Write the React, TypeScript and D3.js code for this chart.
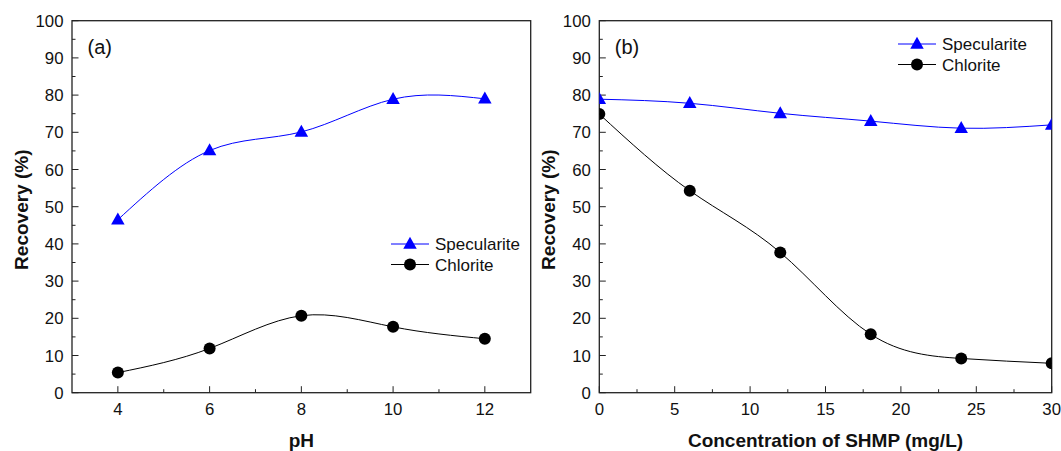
import React from "react";
import * as d3 from "d3";

// ---- Data ----
const phValues = [4, 6, 8, 10, 12];
const phSpecularite = [46.5, 65.1, 70.1, 78.9, 79.0];
const phChlorite = [5.4, 11.9, 20.7, 17.7, 14.5];

const shmpValues = [0, 6, 12, 18, 24, 30];
const shmpSpecularite = [78.9, 77.8, 75.1, 73.0, 71.1, 72.0];
const shmpChlorite = [74.9, 54.3, 37.7, 15.7, 9.2, 7.9];

const yTicks = [0, 10, 20, 30, 40, 50, 60, 70, 80, 90, 100];
const phTicks = [4, 6, 8, 10, 12];
const shmpTicks = [0, 5, 10, 15, 20, 25, 30];

const seriesNames = ["Specularite", "Chlorite"];

const FONT = "'Liberation Sans', Arial, Helvetica, sans-serif";
const BLUE = "#0000ff";

type PanelProps = {
  id: string;
  x0: number;
  x1: number;
  xDomain: [number, number];
  xTicks: number[];
  xMinor: number[];
  xs: number[];
  spec: number[];
  chl: number[];
  label: string;
  xTitle: string;
  legendX: number;
  legendY: number;
};

const TOP = 20.7;
const BOTTOM = 392.7;
const TICK_FS = 16.8;

function Triangle({ cx, cy }: { cx: number; cy: number }) {
  const w = 13.5;
  const h = 12;
  return (
    <path
      d={`M${cx},${cy - h * 0.6} L${cx + w / 2},${cy + h * 0.4} L${cx - w / 2},${cy + h * 0.4} Z`}
      fill={BLUE}
    />
  );
}

function Panel(p: PanelProps) {
  const x = d3.scaleLinear().domain(p.xDomain).range([p.x0, p.x1]);
  const y = d3.scaleLinear().domain([0, 100]).range([BOTTOM, TOP]);
  const yMinor = d3.range(5, 100, 10);
  const line = d3
    .line<[number, number]>()
    .x((d) => x(d[0]))
    .y((d) => y(d[1]))
    .curve(d3.curveNatural);
  const specPts = p.xs.map((v, i) => [v, p.spec[i]] as [number, number]);
  const chlPts = p.xs.map((v, i) => [v, p.chl[i]] as [number, number]);
  const clipId = `clip-${p.id}`;
  const stroke = "#222";
  return (
    <g>
      <defs>
        <clipPath id={clipId}>
          <rect x={p.x0} y={TOP} width={p.x1 - p.x0} height={BOTTOM - TOP} />
        </clipPath>
      </defs>
      {/* y ticks */}
      {yTicks.map((t) => (
        <g key={`yt${t}`}>
          <line x1={p.x0} x2={p.x0 + 6.5} y1={y(t)} y2={y(t)} stroke={stroke} strokeWidth={1} />
          <text
            x={p.x0 - 8.5}
            y={y(t) + 6}
            textAnchor="end"
            fontSize={TICK_FS}
            fontFamily={FONT}
            fill="#111"
          >
            {t}
          </text>
        </g>
      ))}
      {yMinor.map((t) => (
        <line key={`ym${t}`} x1={p.x0} x2={p.x0 + 3.5} y1={y(t)} y2={y(t)} stroke={stroke} strokeWidth={1} />
      ))}
      {/* x ticks */}
      {p.xTicks.map((t) => (
        <g key={`xt${t}`}>
          <line x1={x(t)} x2={x(t)} y1={BOTTOM} y2={BOTTOM - 6.5} stroke={stroke} strokeWidth={1} />
          <text
            x={x(t)}
            y={BOTTOM + 22.3}
            textAnchor="middle"
            fontSize={TICK_FS}
            fontFamily={FONT}
            fill="#111"
          >
            {t}
          </text>
        </g>
      ))}
      {p.xMinor.map((t) => (
        <line key={`xm${t}`} x1={x(t)} x2={x(t)} y1={BOTTOM} y2={BOTTOM - 3.5} stroke={stroke} strokeWidth={1} />
      ))}
      {/* frame */}
      <rect
        x={p.x0}
        y={TOP}
        width={p.x1 - p.x0}
        height={BOTTOM - TOP}
        fill="none"
        stroke={stroke}
        strokeWidth={1.3}
      />
      {/* series */}
      <g clipPath={`url(#${clipId})`}>
        <path d={line(specPts) || ""} fill="none" stroke={BLUE} strokeWidth={1} />
        <path d={line(chlPts) || ""} fill="none" stroke="#000" strokeWidth={1} />
        {specPts.map((d, i) => (
          <Triangle key={`s${i}`} cx={x(d[0])} cy={y(d[1])} />
        ))}
        {chlPts.map((d, i) => (
          <circle key={`c${i}`} cx={x(d[0])} cy={y(d[1])} r={6} fill="#000" />
        ))}
      </g>
      {/* panel label */}
      <text x={p.x0 + 15.5} y={54} fontSize={20} fontFamily={FONT} fill="#111">
        {p.label}
      </text>
      {/* legend */}
      <g>
        <line x1={p.legendX} x2={p.legendX + 38} y1={p.legendY} y2={p.legendY} stroke={BLUE} strokeWidth={1} />
        <Triangle cx={p.legendX + 19} cy={p.legendY} />
        <text x={p.legendX + 44} y={p.legendY + 6} fontSize={17} fontFamily={FONT} fill="#111">
          {seriesNames[0]}
        </text>
        <line x1={p.legendX} x2={p.legendX + 38} y1={p.legendY + 20.5} y2={p.legendY + 20.5} stroke="#000" strokeWidth={1} />
        <circle cx={p.legendX + 19} cy={p.legendY + 20.5} r={6} fill="#000" />
        <text x={p.legendX + 44} y={p.legendY + 26.5} fontSize={17} fontFamily={FONT} fill="#111">
          {seriesNames[1]}
        </text>
      </g>
      {/* axis titles */}
      <text
        x={(p.x0 + p.x1) / 2}
        y={446.5}
        textAnchor="middle"
        fontSize={19}
        fontWeight="bold"
        fontFamily={FONT}
        fill="#111"
      >
        {p.xTitle}
      </text>
      <text
        transform={`translate(${p.x0 - 44.5},${(TOP + BOTTOM) / 2 + 3}) rotate(-90)`}
        textAnchor="middle"
        fontSize={19}
        fontWeight="bold"
        fontFamily={FONT}
        fill="#111"
      >
        Recovery (%)
      </text>
    </g>
  );
}

export default function App() {
  return (
    <svg
      width={1061}
      height={451}
      style={{ position: "absolute", left: 0, top: 0, background: "#fff" }}
    >
      <rect x={0} y={0} width={1061} height={451} fill="#fff" />
      <Panel
        id="a"
        x0={72}
        x1={530.7}
        xDomain={[3, 13]}
        xTicks={phTicks}
        xMinor={[5, 7, 9, 11]}
        xs={phValues}
        spec={phSpecularite}
        chl={phChlorite}
        label="(a)"
        xTitle="pH"
        legendX={391}
        legendY={244}
      />
      <Panel
        id="b"
        x0={599.3}
        x1={1051.7}
        xDomain={[0, 30]}
        xTicks={shmpTicks}
        xMinor={[2.5, 7.5, 12.5, 17.5, 22.5, 27.5]}
        xs={shmpValues}
        spec={shmpSpecularite}
        chl={shmpChlorite}
        label="(b)"
        xTitle="Concentration of SHMP (mg/L)"
        legendX={898}
        legendY={44}
      />
    </svg>
  );
}
